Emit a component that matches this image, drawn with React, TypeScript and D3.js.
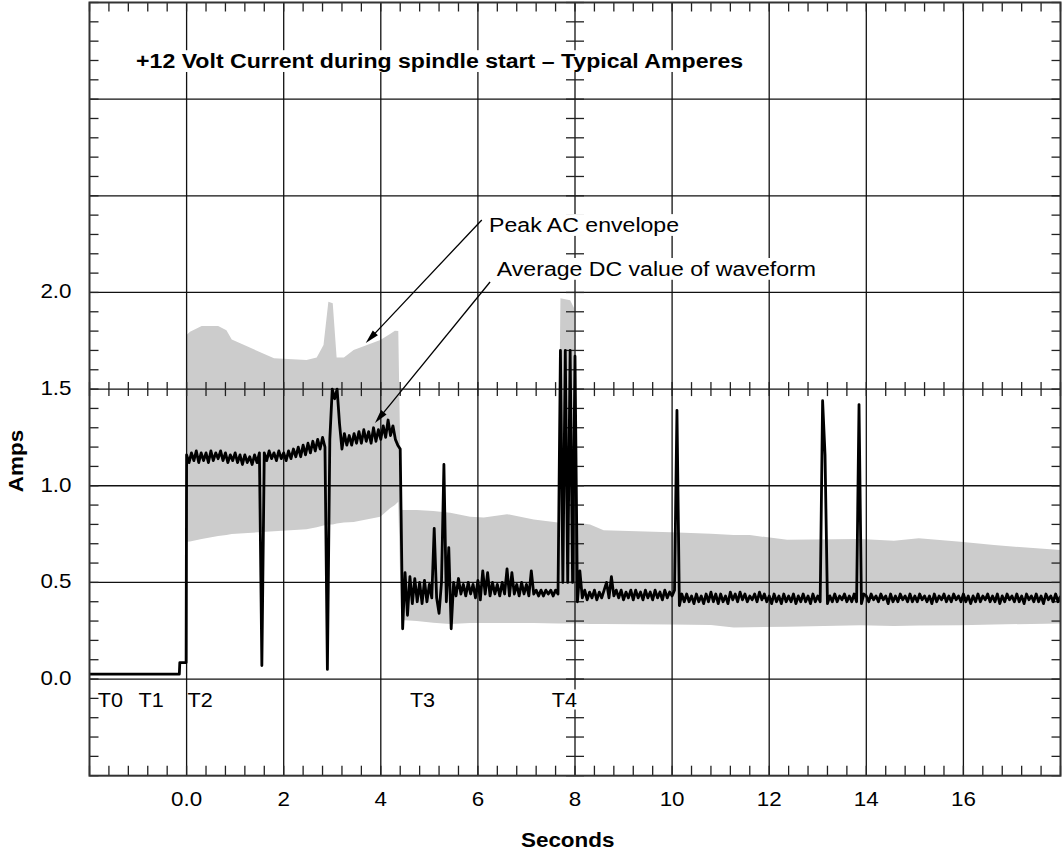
import { useLayoutEffect, useRef, useState } from 'react';
import * as d3 from 'd3';

const W = 1062;
const H = 851;

// axes
const xDomain = [-2, 18];
const yDomain = [-0.5, 3.5];
const xTicks = [0, 2, 4, 6, 8, 10, 12, 14, 16];
const xTickLabels = ['0.0', '2', '4', '6', '8', '10', '12', '14', '16'];
const yTicks = [0, 0.5, 1, 1.5, 2];
const yTickLabels = ['0.0', '0.5', '1.0', '1.5', '2.0'];

// timing markers
const eventNames = ['T0', 'T1', 'T2', 'T3', 'T4'];
const eventTimes = [-1.83, -0.99, 0.02, 4.6, 7.52];

// peak AC envelope (grey band)
const envTimes = [0.0, 0.07, 0.31, 0.65, 0.82, 0.93, 1.8, 2.47, 2.68, 2.82, 2.92, 3.01, 3.09, 3.24, 3.44, 3.99, 4.19, 4.29, 4.36,
  4.42, 4.74, 5.08, 5.43, 5.84, 6.12, 6.6, 7.15, 7.65, 7.7, 7.9, 7.98, 8.02, 8.31, 8.59, 9.97, 10.8, 11.27, 11.6, 12.37, 13.88,
  14.57, 15.08, 15.94, 16.63, 18.0];
const envUpper = [1.78, 1.797, 1.826, 1.826, 1.805, 1.757, 1.659, 1.65, 1.664, 1.728, 1.952, 1.944, 1.664, 1.664, 1.702, 1.754, 1.785, 1.802, 1.8,
  0.875, 0.874, 0.87, 0.86, 0.84, 0.836, 0.853, 0.826, 0.81, 1.97, 1.96, 1.92, 0.81, 0.8, 0.77, 0.76, 0.752, 0.745, 0.745, 0.72, 0.724,
  0.716, 0.728, 0.71, 0.693, 0.667];
const envLower = [0.71, 0.712, 0.725, 0.74, 0.745, 0.75, 0.765, 0.775, 0.785, 0.795, 0.8, 0.8, 0.805, 0.81, 0.812, 0.84, 0.883, 0.9, 0.917,
  0.305, 0.3, 0.291, 0.285, 0.29, 0.29, 0.29, 0.29, 0.288, 0.288, 0.288, 0.288, 0.288, 0.285, 0.285, 0.282, 0.28, 0.267, 0.268, 0.27, 0.278,
  0.274, 0.277, 0.278, 0.282, 0.288];

// average DC waveform: idle level before start
const dcPreTimes = [-2, -0.15, -0.14, -0.01];
const dcPreAmps = [0.025, 0.025, 0.085, 0.085];

// average DC waveform: samples every 0.05 s from t = 0
const dcStep = 0.05;
const dcAmps = [
  // 0 s
  1.16, 1.12, 1.17, 1.13, 1.18, 1.12, 1.17, 1.13, 1.17, 1.12, 1.18, 1.13, 1.17, 1.14, 1.18, 1.13, 1.17, 1.12, 1.16, 1.13,
  // 1 s
  1.17, 1.12, 1.16, 1.11, 1.16, 1.12, 1.15, 1.11, 1.16, 1.12, 1.17, 0.07, 1.17, 1.13, 1.18, 1.14, 1.17, 1.13, 1.18, 1.14,
  // 2 s
  1.17, 1.13, 1.18, 1.14, 1.19, 1.15, 1.2, 1.15, 1.21, 1.16, 1.22, 1.17, 1.23, 1.18, 1.24, 1.19, 1.25, 1.2, 0.05, 1.24,
  // 3 s
  1.5, 1.45, 1.5, 1.32, 1.19, 1.27, 1.21, 1.26, 1.21, 1.27, 1.22, 1.28, 1.22, 1.29, 1.23, 1.28, 1.22, 1.3, 1.23, 1.29,
  // 4 s
  1.24, 1.31, 1.25, 1.34, 1.26, 1.31, 1.24, 1.21, 1.19, 0.26, 0.55, 0.33, 0.53, 0.39, 0.52, 0.4, 0.5, 0.39, 0.51, 0.4,
  // 5 s
  0.49, 0.42, 0.78, 0.42, 0.34, 0.5, 1.11, 0.4, 0.68, 0.26, 0.5, 0.43, 0.52, 0.44, 0.49, 0.43, 0.5, 0.44, 0.49, 0.42,
  // 6 s
  0.51, 0.41, 0.56, 0.44, 0.55, 0.43, 0.5, 0.44, 0.49, 0.43, 0.5, 0.44, 0.57, 0.43, 0.55, 0.44, 0.49, 0.43, 0.5, 0.44,
  // 7 s
  0.49, 0.43, 0.56, 0.44, 0.46, 0.43, 0.46, 0.43, 0.46, 0.44, 0.46, 0.43, 0.46, 0.44, 1.7, 0.5, 1.7, 0.5, 1.7, 0.5,
  // 8 s
  1.67, 0.4, 0.56, 0.42, 0.46, 0.41, 0.45, 0.42, 0.46, 0.41, 0.45, 0.42, 0.46, 0.5, 0.42, 0.53, 0.43, 0.46, 0.42, 0.46,
  // 9 s
  0.41, 0.45, 0.42, 0.46, 0.41, 0.46, 0.42, 0.45, 0.41, 0.46, 0.42, 0.45, 0.41, 0.46, 0.42, 0.45, 0.41, 0.46, 0.42, 0.45,
  // 10 s
  0.43, 0.46, 1.39, 0.38, 0.44, 0.4, 0.44, 0.4, 0.43, 0.39, 0.44, 0.4, 0.43, 0.39, 0.44, 0.4, 0.45, 0.4, 0.44, 0.39,
  // 11 s
  0.44, 0.4, 0.43, 0.39, 0.45, 0.41, 0.44, 0.4, 0.45, 0.41, 0.44, 0.4, 0.43, 0.41, 0.44, 0.4, 0.45, 0.41, 0.44, 0.4,
  // 12 s
  0.43, 0.39, 0.44, 0.4, 0.43, 0.39, 0.44, 0.4, 0.43, 0.4, 0.44, 0.39, 0.43, 0.4, 0.44, 0.4, 0.43, 0.39, 0.44, 0.4,
  // 13 s
  0.43, 0.4, 1.44, 1.16, 0.39, 0.43, 0.4, 0.44, 0.4, 0.43, 0.41, 0.44, 0.4, 0.43, 0.4, 0.44, 0.4, 1.42, 0.39, 0.44,
  // 14 s
  0.43, 0.4, 0.44, 0.41, 0.43, 0.4, 0.44, 0.41, 0.43, 0.39, 0.44, 0.4, 0.43, 0.4, 0.44, 0.41, 0.43, 0.4, 0.44, 0.4,
  // 15 s
  0.43, 0.4, 0.44, 0.41, 0.43, 0.4, 0.43, 0.39, 0.44, 0.4, 0.43, 0.41, 0.44, 0.4, 0.43, 0.4, 0.44, 0.41, 0.43, 0.4,
  // 16 s
  0.44, 0.4, 0.43, 0.39, 0.43, 0.4, 0.44, 0.4, 0.43, 0.41, 0.44, 0.4, 0.43, 0.4, 0.44, 0.39, 0.43, 0.4, 0.44, 0.41,
  // 17 s
  0.43, 0.4, 0.44, 0.4, 0.43, 0.39, 0.44, 0.41, 0.43, 0.4, 0.44, 0.4, 0.43, 0.39, 0.44, 0.41, 0.43, 0.4, 0.44, 0.4,
  // 18 s
  0.43,
];

// annotations: [text x, text baseline, arrow tail x, tail y, head x, head y] in data units
const noteTexts = ['Peak AC envelope', 'Average DC value of waveform'];
const notePos = [
  [6.23, 2.312, 6.08, 2.375, 3.69, 1.738],
  [6.39, 2.085, 6.25, 2.054, 3.88, 1.324],
];

const FONT = '"Liberation Sans", Arial, Helvetica, sans-serif';

function Label({ x, y, text, anchor = 'start', size = 20, bold = false, sx = 1.1, rotate = 0, bg = false, padR = 1 }: any) {
  const ref = useRef<SVGTextElement>(null);
  const [box, setBox] = useState<any>(null);
  useLayoutEffect(() => {
    if (bg && ref.current) {
      const b = ref.current.getBBox();
      setBox({ x: b.x, y: b.y, width: b.width, height: b.height });
    }
  }, [bg, text]);
  const t = `translate(${x},${y})${rotate ? ` rotate(${rotate})` : ''} scale(${sx},1)`;
  return (
    <g transform={t}>
      {box && <rect x={box.x - 1} y={box.y + 1} width={box.width + 1 + padR} height={box.height - 2} fill="#fff" />}
      <text ref={ref} textAnchor={anchor} fontSize={size} fontWeight={bold ? 'bold' : 'normal'} fontFamily={FONT} fill="#000">
        {text}
      </text>
    </g>
  );
}

export default function App() {
  const x = d3.scaleLinear().domain(xDomain).range([89.5, 1060.5]);
  const y = d3.scaleLinear().domain(yDomain).range([775.7, 2.5]);
  const [x0, x1] = x.range();
  const [y0, y1] = y.range();

  const envArea = d3.area<number>()
    .x((_, i) => x(envTimes[i]))
    .y0((_, i) => y(envLower[i]))
    .y1((_, i) => y(envUpper[i]));

  const dcData: [number, number][] = [
    ...dcPreTimes.map((t, i) => [t, dcPreAmps[i]] as [number, number]),
    ...dcAmps.map((v, i) => [i * dcStep, v] as [number, number]),
  ];
  const dcLine = d3.line<[number, number]>().x(d => x(d[0])).y(d => y(d[1]));

  const xMinor = d3.range(-2, 18.001, 0.4);
  const yMinor = d3.range(-0.5, 3.501, 0.1);
  const hGrid = d3.range(0, 3.001, 0.5);

  const tick = { stroke: '#222', strokeWidth: 1.3 };
  const grid = { stroke: '#111', strokeWidth: 1.3 };

  return (
    <svg width={W} height={H} style={{ position: 'absolute', left: 0, top: 0, background: '#fff' }}>
      <defs>
        <clipPath id="plot">
          <rect x={x0} y={y1} width={x1 - x0} height={y0 - y1} />
        </clipPath>
      </defs>
      <rect width={W} height={H} fill="#fff" />

      {/* envelope */}
      <path d={envArea(envTimes) ?? ''} fill="#cccccc" clipPath="url(#plot)" />

      {/* grid */}
      {xTicks.map(t => <line key={'gx' + t} x1={x(t)} x2={x(t)} y1={y1} y2={y0} {...grid} />)}
      {hGrid.map(v => <line key={'gy' + v} x1={x0} x2={x1} y1={y(v)} y2={y(v)} {...grid} />)}

      {/* minor ticks on border and centre axes */}
      {xMinor.map((t, i) => (
        <g key={'xm' + i}>
          <line x1={x(t)} x2={x(t)} y1={y0} y2={y0 - 10} {...tick} />
          <line x1={x(t)} x2={x(t)} y1={y1} y2={y1 + 9} {...tick} />
          <line x1={x(t)} x2={x(t)} y1={y(1.5) - 7} y2={y(1.5) + 7} {...tick} />
        </g>
      ))}
      {yMinor.map((v, i) => (
        <g key={'ym' + i}>
          <line x1={x0} x2={x0 + 9} y1={y(v)} y2={y(v)} {...tick} />
          <line x1={x1} x2={x1 - 9} y1={y(v)} y2={y(v)} {...tick} />
          <line x1={x(8) - 9} x2={x(8) + 9} y1={y(v)} y2={y(v)} {...tick} />
        </g>
      ))}

      {/* title and notes with white backing */}
      <Label x={x(-1.04)} y={y(3.16)} text="+12 Volt Current during spindle start – Typical Amperes" bold size={21} sx={1.1} bg />
      {noteTexts.map((s, i) => (
        <Label key={s} x={x(notePos[i][0])} y={y(notePos[i][1])} text={s} size={21} sx={1.1} bg />
      ))}

      {/* average DC waveform */}
      <path d={dcLine(dcData) ?? ''} fill="none" stroke="#000" strokeWidth={2.8} strokeLinejoin="round" clipPath="url(#plot)" />

      {/* arrows */}
      {notePos.map((p, i) => {
        const ax = x(p[2]), ay = y(p[3]), bx = x(p[4]), by = y(p[5]);
        const len = Math.hypot(bx - ax, by - ay);
        const ux = (bx - ax) / len, uy = (by - ay) / len;
        const L = 14, w = 3.5;
        const hx = bx - ux * L, hy = by - uy * L;
        return (
          <g key={'ar' + i}>
            <line x1={ax} y1={ay} x2={hx + ux * 2} y2={hy + uy * 2} stroke="#000" strokeWidth={1.3} />
            <polygon points={`${bx},${by} ${hx - uy * w},${hy + ux * w} ${hx + uy * w},${hy - ux * w}`} fill="#000" />
          </g>
        );
      })}

      {/* event markers */}
      {eventNames.map((s, i) => (
        <Label key={s} x={x(eventTimes[i])} y={y(-0.143)} text={s} size={20} sx={1.08} bg={i === 4} padR={9} />
      ))}

      {/* border */}
      <rect x={x0} y={y1} width={x1 - x0} height={y0 - y1} fill="none" stroke="#333" strokeWidth={2} />

      {/* tick labels */}
      {yTicks.map((v, i) => (
        <Label key={'yl' + v} x={x0 - 18} y={y(v) + 6} text={yTickLabels[i]} anchor="end" size={20} sx={1.12} />
      ))}
      {xTicks.map((t, i) => (
        <Label key={'xl' + t} x={x(t)} y={806} text={xTickLabels[i]} anchor="middle" size={20} sx={1.12} />
      ))}

      {/* axis titles */}
      <Label x={x(7.85)} y={846.7} text="Seconds" anchor="middle" bold size={21} sx={1.07} />
      <Label x={23} y={y(1.128)} text="Amps" anchor="middle" bold size={21} sx={1.07} rotate={-90} />
    </svg>
  );
}
